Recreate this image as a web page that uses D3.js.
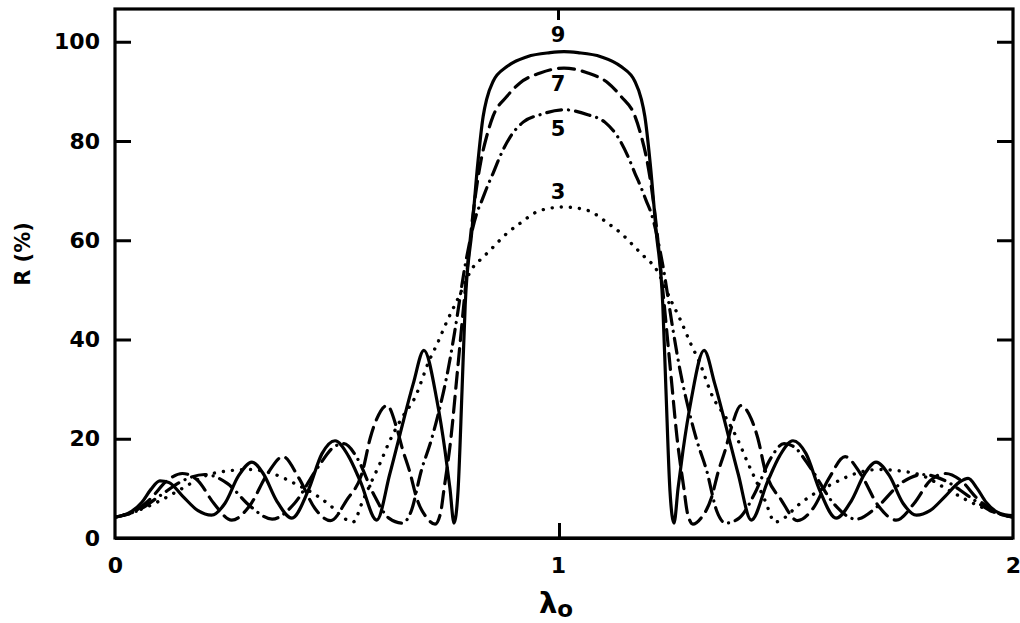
<!DOCTYPE html>
<html>
<head>
<meta charset="utf-8">
<script src="https://cdn.jsdelivr.net/npm/d3@7"></script>
<style>
  html, body { margin: 0; padding: 0; background: #fff; }
  svg { display: block; }
  text { font-family: "DejaVu Sans", sans-serif; font-weight: bold; fill: #000; }
</style>
</head>
<body>
<svg id="chart" width="1020" height="623"></svg>
<script>
// Reflectance of quarter-wave stacks, R (%) against relative frequency, for 9, 7, 5 and 3 layers.
const yTicks = [0, 20, 40, 60, 80, 100];
const xTicks = [0, 1, 2];
const layerLabels = ["9", "7", "5", "3"];

const layers9 = [
  [0,4.2],[0.03,5.0],[0.06,7.2],[0.08,9.8],[0.10,11.5],[0.12,11.2],[0.15,8.5],[0.185,5.5],[0.215,4.6],
  [0.245,7.0],[0.275,12.5],[0.305,15.3],[0.33,13.0],[0.36,7.5],[0.394,4.0],[0.43,9.5],[0.461,17.0],
  [0.49,19.6],[0.52,16.5],[0.546,11.5],[0.583,3.6],[0.612,12.9],[0.635,21.0],[0.664,31.0],[0.688,37.8],
  [0.717,27.7],[0.735,17.6],[0.746,10.0],[0.755,3.0],[0.764,9.5],[0.773,30.0],[0.780,47.0],[0.795,62.0],
  [0.808,75.5],[0.82,85.0],[0.828,88.5],[0.842,92.0],[0.873,95.0],[0.918,97.0],[0.969,97.8],[1,98.0],
  [1.031,97.8],[1.082,97.0],[1.127,95.0],[1.158,92.0],[1.172,88.5],[1.18,85.0],[1.192,75.5],[1.205,62.0],
  [1.22,47.0],[1.227,30.0],[1.236,9.5],[1.245,3.0],[1.254,10.0],[1.265,17.6],[1.283,27.7],[1.312,37.8],
  [1.336,31.0],[1.365,21.0],[1.388,12.9],[1.417,3.6],[1.454,11.5],[1.48,16.5],[1.51,19.6],[1.539,17.0],
  [1.57,9.5],[1.606,4.0],[1.64,7.5],[1.67,13.0],[1.695,15.3],[1.725,12.5],[1.755,7.0],[1.785,4.6],
  [1.815,5.5],[1.85,8.5],[1.88,11.2],[1.90,12.0],[1.92,10.0],[1.94,7.2],[1.97,5.0],[2,4.5]
];

const layers7 = [
  [0,4.2],[0.04,5.2],[0.08,8.0],[0.115,11.5],[0.15,13.0],[0.185,11.5],[0.22,7.0],[0.26,3.6],[0.3,6.5],
  [0.34,13.0],[0.374,16.4],[0.41,12.0],[0.445,6.0],[0.48,3.5],[0.515,7.5],[0.553,14.0],[0.568,20.0],
  [0.583,24.0],[0.606,26.7],[0.628,22.0],[0.64,18.0],[0.656,13.5],[0.672,8.0],[0.695,4.0],[0.713,2.8],
  [0.725,5.0],[0.733,10.0],[0.748,20.0],[0.762,33.0],[0.78,50.0],[0.797,65.0],[0.815,76.0],[0.828,81.0],
  [0.842,85.0],[0.873,89.0],[0.902,91.7],[0.947,93.7],[1,94.7],
  [1.053,93.7],[1.098,91.7],[1.127,89.0],[1.158,85.0],[1.172,81.0],[1.185,76.0],[1.203,65.0],[1.22,50.0],
  [1.238,33.0],[1.252,20.0],[1.267,10.0],[1.275,5.0],[1.287,2.8],[1.305,4.0],[1.328,8.0],[1.344,13.5],
  [1.36,18.0],[1.372,22.0],[1.394,26.7],[1.417,24.0],[1.432,20.0],[1.447,14.0],[1.485,7.5],[1.52,3.5],
  [1.555,6.0],[1.59,12.0],[1.626,16.4],[1.66,13.0],[1.70,6.5],[1.74,3.6],[1.78,7.0],[1.815,11.5],
  [1.85,13.0],[1.885,11.5],[1.92,8.0],[1.96,5.2],[2,4.2]
];

const layers5 = [
  [0,4.2],[0.05,5.5],[0.10,8.5],[0.15,11.5],[0.2,12.8],[0.25,11.0],[0.3,6.5],[0.35,3.8],[0.4,7.0],
  [0.45,14.0],[0.49,18.5],[0.51,19.0],[0.54,16.0],[0.575,9.0],[0.61,4.0],[0.64,3.0],[0.66,5.5],
  [0.682,13.5],[0.704,19.6],[0.72,25.0],[0.742,34.0],[0.757,41.8],[0.78,55.0],[0.806,65.5],[0.817,68.0],
  [0.83,71.0],[0.842,73.5],[0.857,76.8],[0.88,80.8],[0.909,83.8],[0.947,85.3],[1,86.3],
  [1.053,85.3],[1.091,83.8],[1.12,80.8],[1.143,76.8],[1.158,73.5],[1.17,71.0],[1.183,68.0],[1.194,65.5],
  [1.22,55.0],[1.243,41.8],[1.258,34.0],[1.28,25.0],[1.296,19.6],[1.318,13.5],[1.34,5.5],[1.36,3.0],
  [1.39,4.0],[1.425,9.0],[1.46,16.0],[1.49,19.0],[1.51,18.5],[1.55,14.0],[1.60,7.0],[1.65,3.8],
  [1.70,6.5],[1.75,11.0],[1.80,12.8],[1.85,11.5],[1.90,8.5],[1.95,5.5],[2,4.2]
];

const layers3 = [
  [0,4.2],[0.05,5.5],[0.1,7.5],[0.15,10.0],[0.2,12.5],[0.25,13.5],[0.3,13.8],[0.35,13.0],[0.4,11.0],
  [0.45,8.5],[0.48,6.5],[0.51,4.0],[0.53,3.2],[0.552,7.5],[0.572,11.5],[0.59,15.0],[0.612,19.6],
  [0.639,24.2],[0.668,28.3],[0.70,35.8],[0.717,39.0],[0.74,43.8],[0.762,47.9],[0.797,54.5],[0.82,56.6],
  [0.842,58.6],[0.873,61.4],[0.902,63.4],[0.947,66.0],[1,66.7],
  [1.053,66.0],[1.098,63.4],[1.127,61.4],[1.158,58.6],[1.18,56.6],[1.203,54.5],[1.238,47.9],[1.26,43.8],
  [1.283,39.0],[1.30,35.8],[1.332,28.3],[1.361,24.2],[1.388,19.6],[1.41,15.0],[1.428,11.5],[1.448,7.5],
  [1.47,3.2],[1.49,4.0],[1.52,6.5],[1.55,8.5],[1.60,11.0],[1.65,13.0],[1.70,13.8],[1.75,13.5],
  [1.80,12.5],[1.85,10.0],[1.90,7.5],[1.95,5.5],[2,4.2]
];

const series = [
  { name: layerLabels[0], data: layers9, dash: null,         width: 3.2, labelDy: -16 },
  { name: layerLabels[1], data: layers7, dash: "16 8",       width: 3.2, labelDy: 17 },
  { name: layerLabels[2], data: layers5, dash: "15 7 0.1 7", width: 3.2, labelDy: 20 },
  { name: layerLabels[3], data: layers3, dash: "0.1 9",      width: 3.4, labelDy: -14 }
];

const svg = d3.select("#chart");
const x = d3.scaleLinear().domain([0, 2]).range([115, 1013]);
const y = d3.scaleLinear().domain([0, 106.6]).range([538, 9]);

const [x0, x1] = x.range();
const [yb, yt] = y.range();

svg.append("defs").append("clipPath").attr("id", "plot")
  .append("rect").attr("x", x0).attr("y", yt).attr("width", x1 - x0).attr("height", yb - yt);

// curves
const line = d3.line()
  .x(d => x(d[0]))
  .y(d => y(d[1]))
  .curve(d3.curveMonotoneX);

const curves = svg.append("g").attr("clip-path", "url(#plot)");
series.forEach(s => {
  curves.append("path")
    .datum(s.data)
    .attr("d", line)
    .attr("fill", "none")
    .attr("stroke", "#000")
    .attr("stroke-width", s.width)
    .attr("stroke-linecap", "round")
    .attr("stroke-linejoin", "round")
    .attr("stroke-dasharray", s.dash);
});

// curve labels above/below the band centre
series.forEach(s => {
  const peak = s.data.find(d => d[0] === 1);
  svg.append("text")
    .attr("x", x(1) - 6)
    .attr("y", y(peak[1]) + s.labelDy)
    .attr("text-anchor", "middle")
    .attr("dominant-baseline", "middle")
    .attr("font-size", 21)
    .text(s.name);
});

// frame
svg.append("rect")
  .attr("x", x0).attr("y", yt)
  .attr("width", x1 - x0).attr("height", yb - yt)
  .attr("fill", "none").attr("stroke", "#000").attr("stroke-width", 3.2);
svg.append("line")
  .attr("x1", x0).attr("x2", x1).attr("y1", yb + 1).attr("y2", yb + 1)
  .attr("stroke", "#000").attr("stroke-width", 2);

// left axis: inward ticks with labels
svg.append("g").attr("transform", `translate(${x0},0)`)
  .call(d3.axisLeft(y).tickValues(yTicks).tickSize(-16).tickPadding(15).tickFormat(d3.format("d")));
// right axis: inward ticks only
svg.append("g").attr("transform", `translate(${x1},0)`)
  .call(d3.axisRight(y).tickValues(yTicks).tickSize(-16).tickFormat(""));

// bottom axis labels and the centre tick (drawn slightly left of the band centre)
svg.append("g").attr("transform", `translate(0,${yb})`)
  .call(d3.axisBottom(x).tickValues(xTicks).tickSize(0).tickPadding(19).tickFormat(d3.format("d")))
  .selectAll(".tick").filter(d => d === 1).select("text").attr("dx", -6);
svg.append("g").attr("transform", `translate(-5,${yb})`)
  .call(d3.axisBottom(x).tickValues([1]).tickSize(-15).tickFormat(""));
svg.append("g").attr("transform", `translate(-6,${yt})`)
  .call(d3.axisTop(x).tickValues([1]).tickSize(-11).tickFormat(""));

svg.selectAll(".domain").remove();
svg.selectAll(".tick line").attr("stroke", "#000").attr("stroke-width", 3);
svg.selectAll(".tick text")
  .attr("font-family", "DejaVu Sans, sans-serif")
  .attr("font-weight", "bold")
  .attr("font-size", 22)
  .attr("fill", "#000");

// axis titles
svg.append("text")
  .attr("transform", "translate(30,254) rotate(-90)")
  .attr("text-anchor", "middle")
  .attr("font-size", 21)
  .text("R (%)");

const xt = svg.append("text")
  .attr("x", x(1) - 8)
  .attr("y", 613)
  .attr("text-anchor", "middle")
  .attr("font-size", 29);
xt.append("tspan").text("λ");
xt.append("tspan").attr("font-size", 23).attr("dy", 4).text("o");
</script>
</body>
</html>
